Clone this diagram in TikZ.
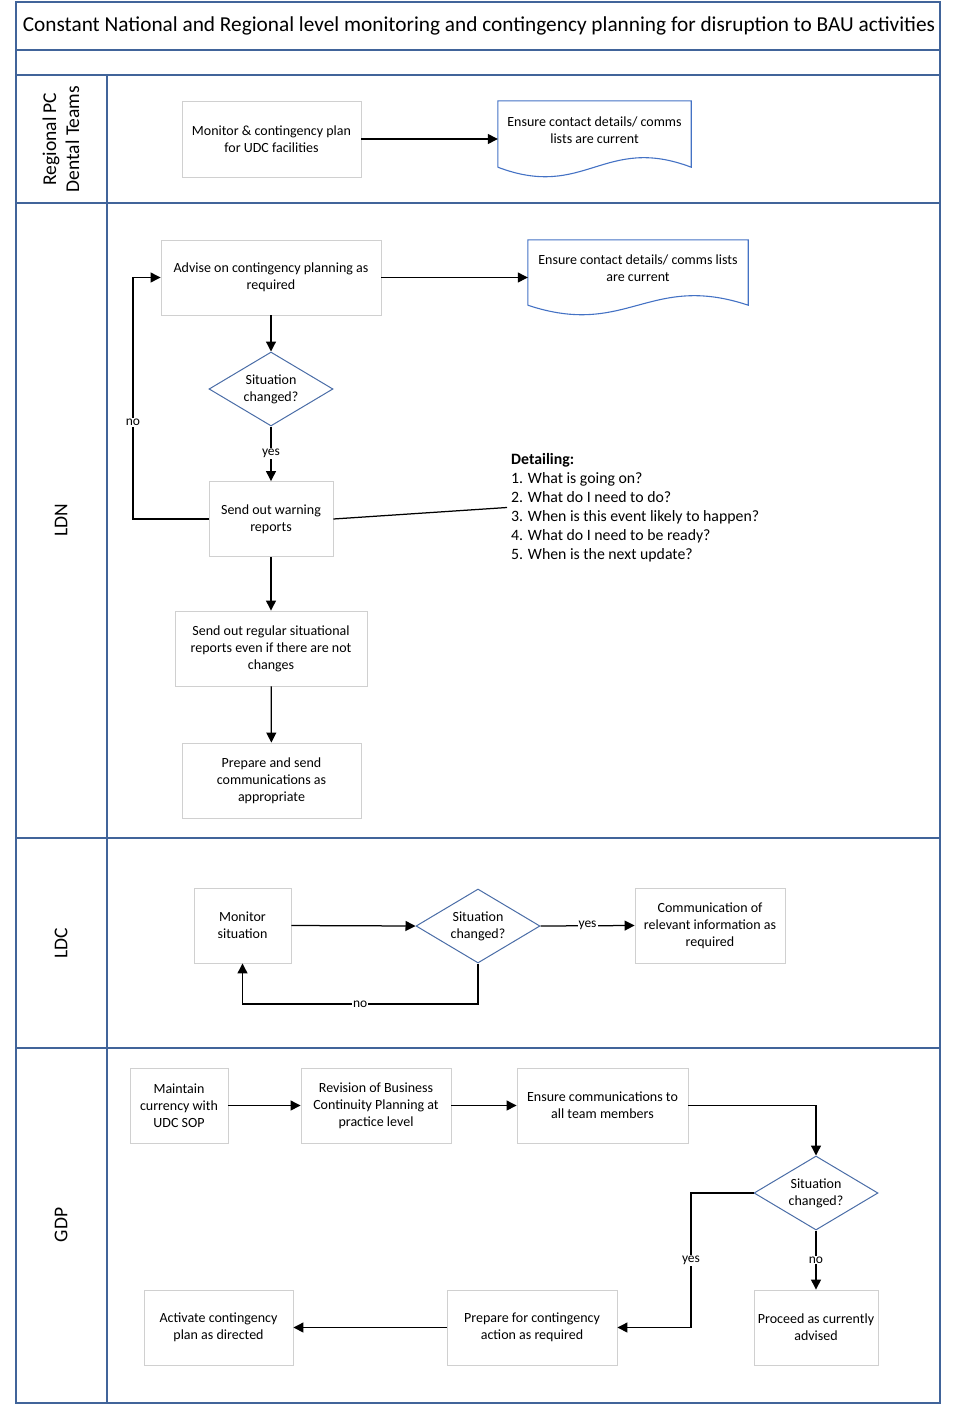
\documentclass[tikz,border=0pt]{standalone}
\usepackage{fontspec}
\setmainfont{Carlito}
\usetikzlibrary{arrows.meta,shapes.geometric,positioning}
\definecolor{lanecol}{HTML}{41649A}
\definecolor{diacol}{HTML}{4A6DA7}
\definecolor{doccol}{HTML}{4472C4}
\definecolor{boxgray}{HTML}{D0D0D0}
% wavy bottom of a document node
\newcommand{\docwave}[2]{%
\draw[doccol,line width=1.1pt] ([yshift=-8pt]#1.south west) -- (#1.north west) -- (#1.north east) -- ([yshift=-8pt]#1.south east)
  .. controls +(-#2,-33) and +(#2,33) .. ([yshift=-8pt]#1.south west);}
\begin{document}
\begin{tikzpicture}[x=1pt,y=-1pt,
  box/.style={draw=boxgray,line width=0.9pt,fill=white,align=center,inner sep=2pt,
    font=\fontsize{14}{17}\selectfont},
  docbox/.style={draw=none,align=center,inner sep=2pt,font=\fontsize{14}{17}\selectfont},
  decision/.style={diamond,draw=diacol,line width=1pt,fill=white,align=center,inner sep=0pt,
    minimum width=124,minimum height=74,aspect=1.68,font=\fontsize{14}{17}\selectfont},
  conn/.style={line width=1.25pt,-{Triangle[length=10pt,width=10pt]}},
  lbl/.style={fill=white,inner sep=1pt,font=\fontsize{13.5}{15}\selectfont},
  lanetxt/.style={rotate=90,align=center,font=\fontsize{19.5}{23}\selectfont}]
\useasboundingbox (0,0) rectangle (960,1421);
% frame and lanes
\draw[lanecol,line width=1.8pt] (16,2) rectangle (940,1403);
\foreach \y in {50,75,203,838,1048}
{
	\draw[lanecol,line width=1.5pt] (16,\y) -- (940,\y);
}
\draw[lanecol,line width=1.5pt] (107,75) -- (107,1403);
\node[font=\fontsize{21.3}{24}\selectfont] (title) at (479,26) {Constant National and Regional level monitoring and contingency planning for disruption to BAU activities};
\node[lanetxt] (regional) at (61,139) {Regional PC\\Dental Teams};
\node[lanetxt] (ldn) at (61,520) {LDN};
\node[lanetxt] (ldc) at (61,943) {LDC};
\node[lanetxt] (gdp) at (61,1225) {GDP};
% Regional PC Dental Teams
\node[box,minimum width=179,minimum height=76] (monudc) at (271.5,139) {Monitor \& contingency plan\\for UDC facilities};
\node[docbox,minimum width=193,minimum height=58] (contacts) at (594.5,130) {Ensure contact details/ comms\\lists are current};
\docwave{contacts}{87}
\draw[conn] (monudc.east) -- (monudc.east -| contacts.west);
% LDN
\node[box,minimum width=220,minimum height=75] (advise) at (271,277.5) {Advise on contingency planning as\\required};
\node[docbox,minimum width=220,minimum height=57] (commslist) at (638,268.5) {Ensure contact details/ comms lists\\are current};
\docwave{commslist}{99}
\node[decision] (chgldn) at (271,389) {Situation\\changed?};
\node[box,minimum width=124,minimum height=75] (warn) at (271,519) {Send out warning\\reports};
\node[box,minimum width=192,minimum height=75] (regular) at (271,648.5) {Send out regular situational\\reports even if there are not\\changes};
\node[box,minimum width=179,minimum height=75] (prepsend) at (271.5,780.5) {Prepare and send\\communications as\\appropriate};
\node[align=left,anchor=west,inner sep=4pt,font=\fontsize{15.8}{19}\selectfont] (detail) at (507,507.5)
  {\textbf{Detailing:}\\1. What is going on?\\2. What do I need to do?\\3. When is this event likely to happen?\\4. What do I need to be ready?\\5. When is the next update?};
\draw[conn] (advise.east) -- (advise.east -| commslist.west);
\draw[conn] (advise) -- (chgldn);
\draw[conn] (chgldn) -- node[lbl] {yes} (warn);
\draw[conn] (warn.west) -- (133,519) |- node[lbl,pos=0.2] {no} (advise.west);
\draw[line width=1.25pt] (warn.east) -- (detail.west);
\draw[conn] (warn) -- (regular);
\draw[conn] (regular) -- (prepsend);
% LDC
\node[box,minimum width=97,minimum height=75] (monsit) at (242.5,925.5) {Monitor\\situation};
\node[decision] (chgldc) at (478,926) {Situation\\changed?};
\node[box,minimum width=150,minimum height=75] (commrel) at (710,925.5) {Communication of\\relevant information as\\required};
\draw[conn] (monsit.east) -- (chgldc.west);
\draw[conn] (chgldc.east) -- node[lbl,pos=0.5] {yes} (commrel.west);
\draw[conn] (chgldc.south) -- (478,1004) -| node[lbl,pos=0.25] {no} (monsit.south);
% GDP
\node[box,minimum width=98,minimum height=75] (maintain) at (179,1105.5) {Maintain\\currency with\\UDC SOP};
\node[box,minimum width=150,minimum height=75] (revision) at (376,1105.5) {Revision of Business\\Continuity Planning at\\practice level};
\node[box,minimum width=171,minimum height=75] (ensure) at (602.5,1105.5) {Ensure communications to\\all team members};
\node[decision] (chggdp) at (816,1193) {Situation\\changed?};
\node[box,minimum width=124,minimum height=75] (proceed) at (816,1327.5) {Proceed as currently\\advised};
\node[box,minimum width=170,minimum height=75] (prepcont) at (532,1327.5) {Prepare for contingency\\action as required};
\node[box,minimum width=149,minimum height=75] (activate) at (218.5,1327.5) {Activate contingency\\plan as directed};
\draw[conn] (maintain) -- (revision);
\draw[conn] (revision) -- (ensure);
\draw[conn] (ensure.east) -| (chggdp.north);
\draw[conn] (chggdp) -- node[lbl] {no} (proceed);
\draw[conn] (chggdp.west) -- (691,1193) |- node[lbl,pos=0.25] {yes} (prepcont.east);
\draw[conn] (prepcont) -- (activate);
\end{tikzpicture}
\end{document}
